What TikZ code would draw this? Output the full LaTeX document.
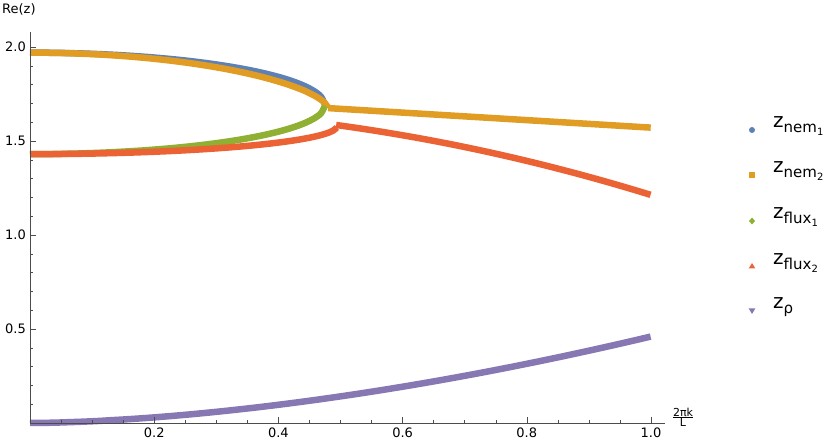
\documentclass[tikz,border=0pt]{standalone}
\usepackage{fontspec}
\setmainfont{DejaVu Sans}
\definecolor{cb}{HTML}{5E81B5}
\definecolor{co}{HTML}{E19C24}
\definecolor{cg}{HTML}{8FB032}
\definecolor{cr}{HTML}{EB6235}
\definecolor{cp}{HTML}{8778B3}
\newcommand{\lz}[2]{z\raisebox{-5pt}{\fontsize{15}{15}\selectfont #1\raisebox{-3pt}{\fontsize{10}{10}\selectfont #2}}}
\tikzset{curve/.style={line width=6.5pt, smooth, samples=80},
 ticklab/.style={font=\fontsize{13}{13}\selectfont, inner sep=1pt},
 legtxt/.style={font=\fontsize{20}{20}\selectfont, anchor=west, inner sep=0pt}}
\begin{document}
\begin{tikzpicture}
\useasboundingbox (0,0) rectangle (830pt,446pt);
\begin{scope}[shift={(30pt,23pt)}, x=621pt, y=188pt]
 % curves
 \draw[curve, cb] plot[domain=0:0.475] (\x,{1.69+0.28*sqrt(max(0,1-(\x/0.475)^2))});
 \draw[curve, co] plot[domain=0:0.48] (\x,{1.675+0.295*(max(0,1-(\x/0.48)^2))^0.62});
 \draw[curve, co] plot[domain=0.48:1] (\x,{1.675-0.2*(\x-0.48)});
 \draw[curve, cg] plot[domain=0:0.475] (\x,{1.69-0.26*sqrt(max(0,1-(\x/0.475)^2))});
 \draw[curve, cr] plot[domain=0:0.495] (\x,{1.58-0.15*sqrt(max(0,1-(\x/0.495)^2))});
 \draw[curve, cr] plot[domain=0.493:1] (\x,{1.585-0.45*(\x-0.493)-0.56*(\x-0.493)^2});
 \draw[curve, cp] plot[domain=0:1] (\x,{0.46*\x^1.7});
 % axes
 \draw[line width=0.7pt, black!70] (0,0) -- (1.023,0);
 \draw[line width=0.7pt, black!70] (0,0) -- (0,2.08);
 \foreach \i in {1,...,20} {\draw[black!70, line width=0.5pt] (\i*0.05,0) -- ++(0,3pt);}
 \foreach \i in {1,...,5} {\draw[black!70, line width=0.5pt] (\i*0.2,0) -- ++(0,6pt);}
 \foreach \i in {1,...,20} {\draw[black!70, line width=0.5pt] (0,\i*0.1) -- ++(3pt,0);}
 \foreach \i in {1,...,4} {\draw[black!70, line width=0.5pt] (0,\i*0.5) -- ++(6pt,0);}
 \foreach \v in {0.2,0.4,0.6,0.8,1.0} {\node[ticklab, anchor=north] (x\v) at (\v,-4pt) {\v};}
 \foreach \v in {0.5,1.0,1.5,2.0} {\node[ticklab, anchor=east] (y\v) at (-3pt,\v) {\v};}
\end{scope}
\node[ticklab, anchor=north west] (ylab) at (1pt,444pt) {Re(z)};
\node[font=\fontsize{11}{11}\selectfont, inner sep=0pt] (xlab) at (683pt,29pt) {$\frac{\hbox{2πk}}{\hbox{L}}$};
% legend
\fill[cb] (752pt,316pt) circle (3pt);
\fill[co] (749pt,268pt) rectangle ++(6pt,6pt);
\fill[cg] (752pt,228.5pt) -- ++(3pt,-3.5pt) -- ++(-3pt,-3.5pt) -- ++(-3pt,3.5pt) -- cycle;
\fill[cr] (752pt,183pt) -- ++(3.3pt,-5.5pt) -- ++(-6.6pt,0) -- cycle;
\fill[cp] (752pt,132pt) -- ++(3.3pt,5.5pt) -- ++(-6.6pt,0) -- cycle;
\node[legtxt] (l1) at (773pt,320pt) {\lz{nem}{1}};
\node[legtxt] (l2) at (773pt,275pt) {\lz{nem}{2}};
\node[legtxt] (l3) at (773pt,229pt) {\lz{flux}{1}};
\node[legtxt] (l4) at (773pt,183pt) {\lz{flux}{2}};
\node[legtxt] (l5) at (773pt,139pt) {\lz{ρ}{}};
\end{tikzpicture}
\end{document}
